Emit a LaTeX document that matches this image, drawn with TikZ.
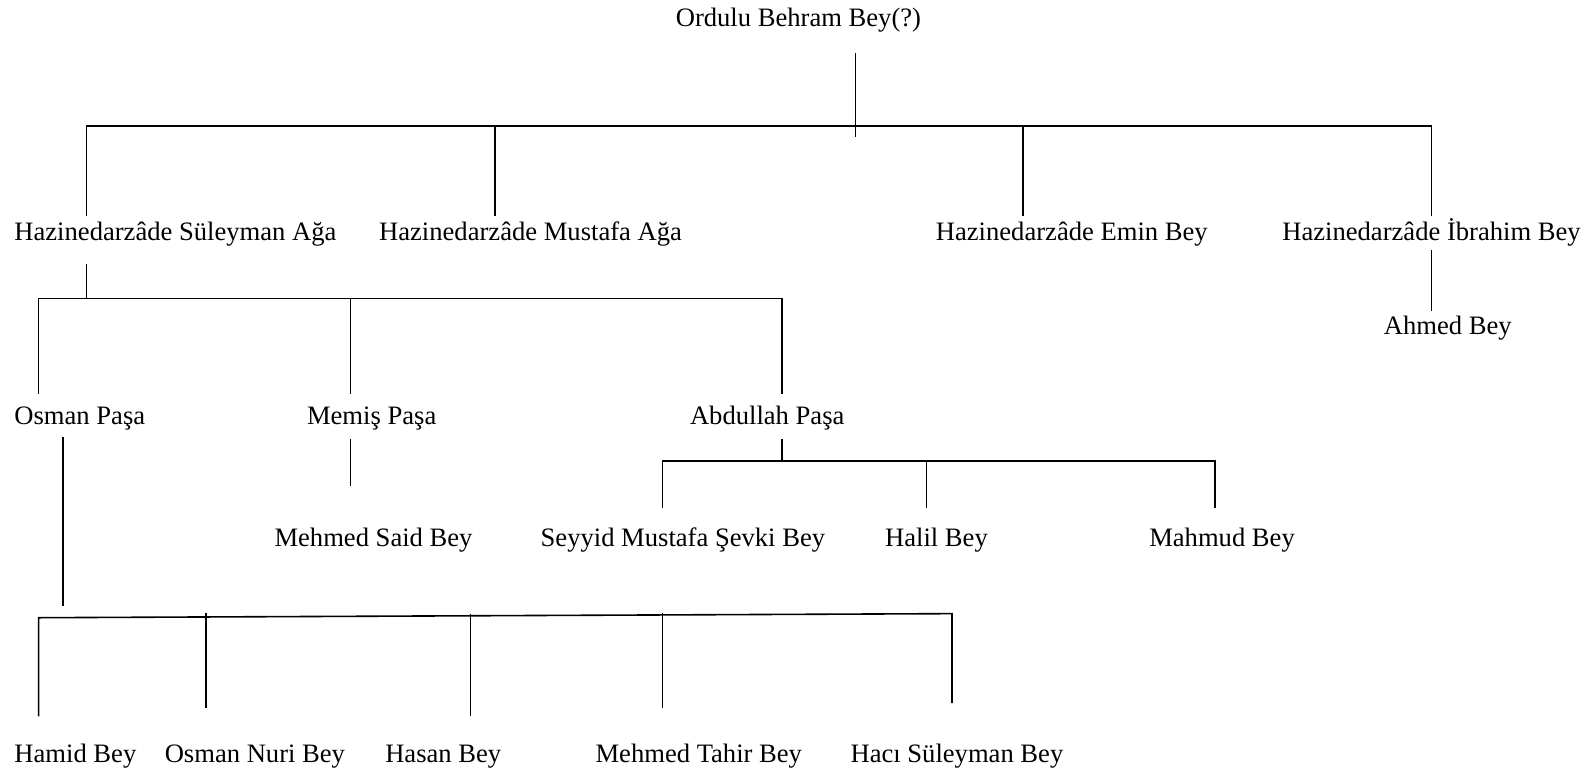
\documentclass[tikz,border=0pt]{standalone}
\usepackage{fontspec}
\setmainfont{Liberation Serif}
\begin{document}
\begin{tikzpicture}[x=1.016pt,y=-1.016pt,
  person/.style={anchor=base west,inner sep=0pt,font=\fontsize{26.6}{32}\selectfont},
  link/.style={line width=1.6pt,line cap=butt}]
\useasboundingbox (0,0) rectangle (1567,763.8);
% people
\node[person] (behram) at (665,26) {Ordulu Behram Bey(?)};
\node[person] (suleyman) at (14,237) {Hazinedarzâde Süleyman Ağa};
\node[person] (mustafa) at (373,237) {Hazinedarzâde Mustafa Ağa};
\node[person] (emin) at (921,237) {Hazinedarzâde Emin Bey};
\node[person] (ibrahim) at (1262,237) {Hazinedarzâde İbrahim Bey};
\node[person] (ahmed) at (1362,329) {Ahmed Bey};
\node[person] (osman) at (14,418) {Osman Paşa};
\node[person] (memis) at (302,418) {Memiş Paşa};
\node[person] (abdullah) at (679,418) {Abdullah Paşa};
\node[person] (said) at (270,538) {Mehmed Said Bey};
\node[person] (sevki) at (532,538) {Seyyid Mustafa Şevki Bey};
\node[person] (halil) at (871,538) {Halil Bey};
\node[person] (mahmud) at (1131,538) {Mahmud Bey};
\node[person] (hamid) at (14,751) {Hamid Bey};
\node[person] (nuri) at (162,751) {Osman Nuri Bey};
\node[person] (hasan) at (379,751) {Hasan Bey};
\node[person] (tahir) at (586,751) {Mehmed Tahir Bey};
\node[person] (haci) at (837,751) {Hacı Süleyman Bey};
% junction points
\coordinate (r0) at (842,52);  \coordinate (r1) at (842,135);
\coordinate (a1) at (85,124);  \coordinate (a4) at (1409,124);
\coordinate (s0) at (85,260);  \coordinate (s1) at (85,294);
\coordinate (b1) at (38,294);  \coordinate (b3) at (770,294);
\coordinate (ab0) at (770,432); \coordinate (ab1) at (770,454);
\coordinate (c1) at (652,454); \coordinate (c3) at (1196,454);
\coordinate (o0) at (62,430);  \coordinate (o1) at (62,596);
\coordinate (d1) at (38,608);  \coordinate (d5) at (937,604);
% Behram's children
\draw[link] (r0) -- (r1);
\draw[link] (85,213) -- (a1) -- (a4) -- (1409,213);
\draw[link] (487,124) -- (487,213);
\draw[link] (1007,124) -- (1007,213);
\draw[link] (1409,246) -- (1409,306);
% Suleyman's children
\draw[link] (s0) -- (s1);
\draw[link] (38,388) -- (b1) -- (b3) -- (770,388);
\draw[link] (345,294) -- (345,388);
\draw[link] (345,432) -- (345,478);
% Abdullah's children
\draw[link] (ab0) -- (ab1);
\draw[link] (652,500) -- (c1) -- (c3) -- (1196,500);
\draw[link] (912,454) -- (912,500);
% Osman's children
\draw[link] (o0) -- (o1);
\draw[link] (38,705) -- (d1) -- (d5) -- (937,692);
\draw[link] (203,603) -- (203,697);
\draw[link] (463,604) -- (463,705);
\draw[link] (652,603) -- (652,697);
\end{tikzpicture}
\end{document}
